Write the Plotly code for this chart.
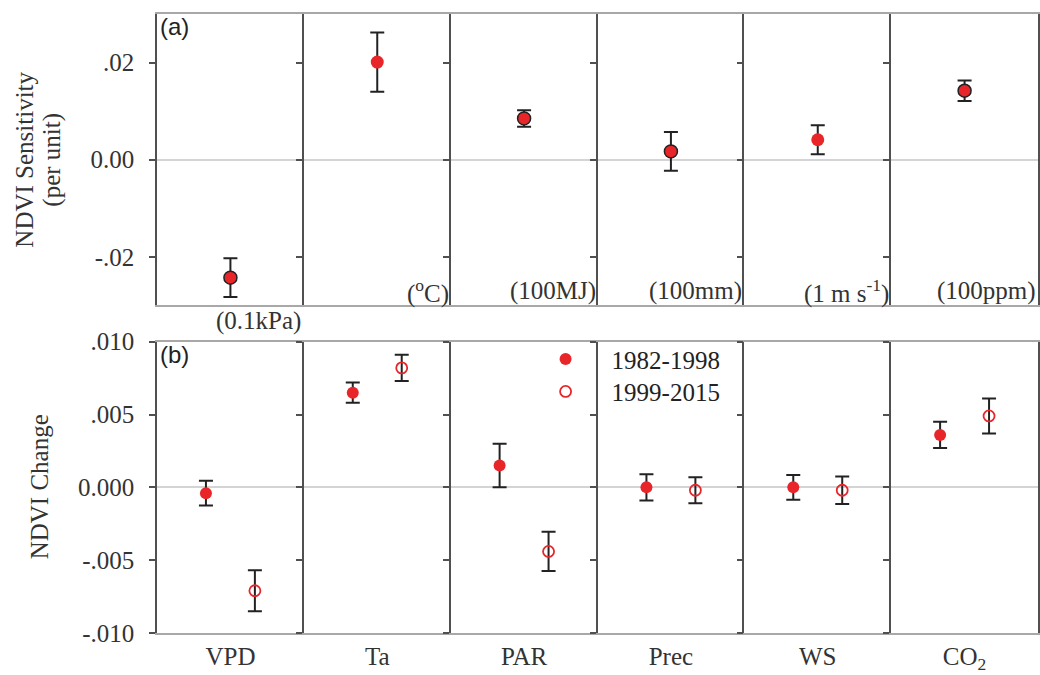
import plotly.graph_objects as go
from plotly.subplots import make_subplots

# ---------------- data ----------------
categories = ["VPD", "Ta", "PAR", "Prec", "WS", "CO<sub>2</sub>"]
units = ["(0.1kPa)", "(<sup>o</sup>C)", "(100MJ)", "(100mm)", "(1 m s<sup>-1</sup>)", "(100ppm)"]

sensitivity = [-0.0243, 0.0201, 0.0085, 0.0017, 0.0041, 0.0142]
sensitivity_err = [0.0040, 0.0061, 0.0017, 0.0040, 0.0030, 0.0021]

change_8298 = [-0.0004, 0.0065, 0.0015, 0.0000, 0.0000, 0.0036]
change_8298_err = [0.00085, 0.0007, 0.0015, 0.0009, 0.00085, 0.0009]
change_9915 = [-0.0071, 0.0082, -0.0044, -0.0002, -0.0002, 0.0049]
change_9915_err = [0.0014, 0.0009, 0.00135, 0.0009, 0.00095, 0.0012]

top_ticks = [-0.02, 0.0, 0.02]
top_ticktext = ["-.02", "0.00", ".02"]
bot_ticks = [-0.010, -0.005, 0.0, 0.005, 0.010]
bot_ticktext = ["-.010", "-.005", "0.000", ".005", ".010"]

series_names = ["1982-1998", "1999-2015"]

# ---------------- style ----------------
RED = "#e8262a"
DARK = "#222222"
SERIF = "Liberation Serif"
W, H = 1040, 675
ML, MR, MT, MB = 157, 1, 3, 42
plot_h = H - MT - MB
plot_w = W - ML - MR


def py(px):
    """pixel row (from top of figure) -> paper y"""
    return (H - MB - px) / plot_h


fig = make_subplots(rows=2, cols=6, horizontal_spacing=0,
                    vertical_spacing=37 / plot_h)

top_outline = [1.5, 0, 1.5, 1.5, 0, 1.5]

for c in range(6):
    col = c + 1
    fig.add_trace(go.Scatter(
        x=[0.5], y=[sensitivity[c]], mode="markers",
        marker=dict(size=13, color=RED, line=dict(color=DARK, width=top_outline[c])),
        error_y=dict(type="data", array=[sensitivity_err[c]], color=DARK, thickness=2, width=7),
        showlegend=False, hoverinfo="y"), row=1, col=col)
    fig.add_trace(go.Scatter(
        x=[1 / 3], y=[change_8298[c]], mode="markers", name=series_names[0],
        legend="legend", legendgroup="a", showlegend=(c == 0),
        marker=dict(size=12, color=RED, symbol="circle"),
        error_y=dict(type="data", array=[change_8298_err[c]], color=DARK, thickness=2, width=7)),
        row=2, col=col)
    fig.add_trace(go.Scatter(
        x=[2 / 3], y=[change_9915[c]], mode="markers", name=series_names[1],
        legend="legend2", legendgroup="b", showlegend=(c == 0),
        marker=dict(size=11, color=RED, symbol="circle-open", line=dict(width=1.8, color=RED)),
        error_y=dict(type="data", array=[change_9915_err[c]], color=DARK, thickness=2, width=7)),
        row=2, col=col)

axis_font = dict(family=SERIF, size=25, color="#333333")

for r in (1, 2):
    for c in range(6):
        col = c + 1
        fig.update_xaxes(row=r, col=col, range=[0, 1], showgrid=False, zeroline=False,
                         showline=True, mirror=True, linecolor="#a8a8a8", linewidth=1.5,
                         fixedrange=True)
        if r == 2:
            fig.update_xaxes(row=r, col=col, tickmode="array", tickvals=[0.5],
                             ticktext=[categories[c]], ticks="",
                             tickfont=dict(family=SERIF, size=25, color="#333333"))
        else:
            fig.update_xaxes(row=r, col=col, showticklabels=False, ticks="")
        fig.update_yaxes(row=r, col=col,
                         range=[-0.03, 0.03] if r == 1 else [-0.010, 0.010],
                         tickmode="array",
                         tickvals=top_ticks if r == 1 else bot_ticks,
                         ticktext=top_ticktext if r == 1 else bot_ticktext,
                         showticklabels=(c == 0), tickfont=axis_font,
                         ticks="outside", ticklen=6, tickwidth=1.5, tickcolor="#505050",
                         ticklabelstandoff=10,
                         showgrid=False, zeroline=True, zerolinecolor="#d4d4d4", zerolinewidth=1.5,
                         showline=True, mirror=(c == 5), linecolor="#505050", linewidth=1.5,
                         fixedrange=True)

annotations = []
# panel letters
annotations.append(dict(text="(a)", xref="x domain", yref="y domain", x=0.005, y=1.01,
                        xanchor="left", yanchor="top", showarrow=False,
                        font=dict(family="Liberation Sans", size=24, color="#222222")))
annotations.append(dict(text="(b)", xref="x7 domain", yref="y7 domain", x=0.005, y=1.01,
                        xanchor="left", yanchor="top", showarrow=False,
                        font=dict(family="Liberation Sans", size=24, color="#222222")))
# unit labels
for c in range(6):
    ax = "" if c == 0 else str(c + 1)
    if c == 0:
        ypos, xpos = -0.055, 0.995
    else:
        ypos, xpos = 0.048, 1.0
    annotations.append(dict(text=units[c], xref=f"x{ax} domain", yref=f"y{ax} domain",
                            x=xpos, y=ypos, xanchor="right", yanchor="middle", showarrow=False,
                            font=dict(family=SERIF, size=25, color="#333333")))
# y-axis titles
annotations.append(dict(text="NDVI Sensitivity", xref="paper", yref="y domain", x=0, xshift=25 - ML,
                        y=0.5, xanchor="center", yanchor="middle", textangle=-90, showarrow=False,
                        font=dict(family=SERIF, size=25, color="#333333")))
annotations.append(dict(text="(per unit)", xref="paper", yref="y domain", x=0, xshift=52 - ML,
                        y=0.5, xanchor="center", yanchor="middle", textangle=-90, showarrow=False,
                        font=dict(family=SERIF, size=25, color="#333333")))
annotations.append(dict(text="NDVI Change", xref="paper", yref="y7 domain", x=0, xshift=39 - ML,
                        y=0.5, xanchor="center", yanchor="middle", textangle=-90, showarrow=False,
                        font=dict(family=SERIF, size=25, color="#333333")))

legend_style = dict(xanchor="left", yanchor="top", x=(520 - ML) / plot_w,
                    bgcolor="rgba(0,0,0,0)", borderwidth=0, itemwidth=82,
                    font=dict(family=SERIF, size=25, color="#222222"))

fig.update_layout(
    width=W, height=H,
    margin=dict(l=ML, r=MR, t=MT, b=MB),
    paper_bgcolor="white", plot_bgcolor="white",
    annotations=annotations,
    showlegend=True,
    legend=dict(legend_style, y=py(331)),
    legend2=dict(legend_style, y=py(364)),
)

fig.write_html("out.html", config={"displayModeBar": False},
               post_script="document.body.style.margin='0';document.body.style.overflow='hidden';")
